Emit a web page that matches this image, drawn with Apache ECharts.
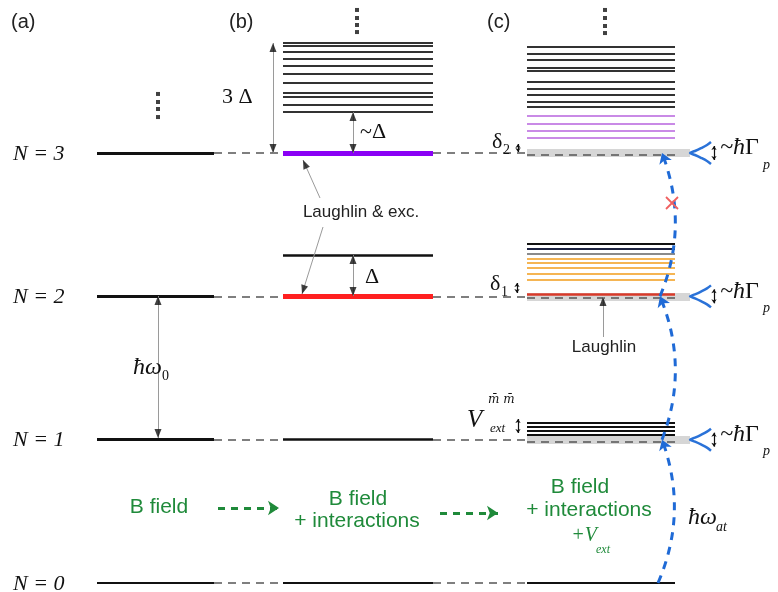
<!DOCTYPE html>
<html><head><meta charset="utf-8">
<script src="https://cdn.jsdelivr.net/npm/echarts@6/dist/echarts.min.js"></script>
<style>html,body{margin:0;padding:0;background:#fff}#c{width:778px;height:592px}</style>
</head><body><div id="c"></div>
<script>
// ---------------- data (energies in units of hbar*omega0) ----------------
const levelsN = [0, 1, 2, 3];
const levelLabels = ['N = 0', 'N = 1', 'N = 2', 'N = 3'];
const panelLabels = ['(a)', '(b)', '(c)'];
const colA = [97, 214], colB = [283, 433], colC = [527, 675];
const bStackN3 = [3.286, 3.335, 3.391, 3.419, 3.488, 3.551, 3.607, 3.656, 3.705, 3.747, 3.768];
const bExcN2 = [2.288];
const cBlackN3 = [3.321, 3.356, 3.405, 3.447, 3.495, 3.572, 3.593, 3.649, 3.691, 3.740];
const cPurpleN3 = [3.105, 3.154, 3.202, 3.258];
const cDarkN2 = [2.295, 2.330, 2.365];
const cOrangeN2 = [2.114, 2.156, 2.198, 2.233, 2.260];
const cLaughlinN2 = [2.016];
const cStackN1 = [1.033, 1.060, 1.088, 1.116];
const dotX = [158, 357, 605];
const dotsA = [3.251, 3.307, 3.356, 3.412];
const dotsB = [3.844, 3.893, 3.942, 3.998];
const dotsC = [3.837, 3.886, 3.942, 3.998];
const transitions = [[0, 1], [1, 2], [2, 3]];
const broadenedN = [1, 2, 3];

// ---------------- layout helpers ----------------
const Y0 = 583, U = 143.33;
const E = py => (Y0 - py) / U;           // screen y -> energy
const PY = e => Y0 - e * U;              // energy -> screen y

const seg = (x1, x2, e, style) => ({ coords: [[x1, e], [x2, e]], lineStyle: Object.assign({ opacity: 1 }, style) });
const levelData = [];
levelsN.forEach(n => {
  levelData.push(seg(colA[0], colA[1], n, { color: '#111', width: n === 0 ? 2 : 3 }));
  let bs = { color: '#111', width: n === 0 ? 2 : 2.5 };
  if (n === 2) bs = { color: '#ff2020', width: 5 };
  if (n === 3) bs = { color: '#8a00f5', width: 5 };
  levelData.push(seg(colB[0], colB[1], n, bs));
});
levelData.push(seg(colC[0], colC[1], 0, { color: '#111', width: 2 }));
bStackN3.forEach(e => levelData.push(seg(colB[0], colB[1], e, { color: '#333', width: 2 })));
bExcN2.forEach(e => levelData.push(seg(colB[0], colB[1], e, { color: '#111', width: 2.5 })));
cBlackN3.forEach(e => levelData.push(seg(colC[0], colC[1], e, { color: '#333', width: 2 })));
cPurpleN3.forEach(e => levelData.push(seg(colC[0], colC[1], e, { color: '#c98ae6', width: 2 })));
const darkCols = ['#8a8a8a', '#1d2340', '#111'];
cDarkN2.forEach((e, i) => levelData.push(seg(colC[0], colC[1], e, { color: darkCols[i], width: 2 })));
cOrangeN2.forEach(e => levelData.push(seg(colC[0], colC[1], e, { color: '#f5b553', width: 2.2 })));
cLaughlinN2.forEach(e => levelData.push(seg(colC[0], colC[1], e, { color: '#d83a2a', width: 2.5 })));
cStackN1.forEach(e => levelData.push(seg(colC[0], colC[1], e, { color: '#111', width: 2 })));

const bandData = broadenedN.map(n => seg(colC[0], 690, n, { color: '#d6d6d6', width: 8 }));
const dashData = [];
levelsN.forEach(n => {
  dashData.push(seg(colA[1], colB[0], n, {}));
  dashData.push(seg(colB[1], colC[0], n, {}));
  if (n > 0) dashData.push(seg(colC[0], colC[1], n - 0.012, {}));
});

// annotation arrows (screen px endpoints)
const arrows = [
  [273, 43, 273, 153, 2], [353, 112, 353, 153, 2], [353, 255, 353, 296, 2], [158, 296, 158, 438, 2],
  [320, 198, 303, 160, 1], [323, 227, 302, 294, 1], [603, 337, 603, 297, 1]
];
const shaftData = arrows.map(a => ({ coords: [[a[0], E(a[1])], [a[2], E(a[3])]] }));
const headData = [];
const head = (tx, ty, fx, fy) => {
  const dx = tx - fx, dy = ty - fy, L = Math.hypot(dx, dy);
  const ux = dx / L, uy = dy / L, h = 4.5;
  headData.push({ value: [tx - ux * h, E(ty - uy * h)], symbolRotate: Math.atan2(-dx, -dy) * 180 / Math.PI });
};
arrows.forEach(a => {
  head(a[2], a[3], a[0], a[1]);
  if (a[4] === 2) head(a[0], a[1], a[2], a[3]);
});

// tiny double arrows
const tiny = [[518, 144, 152], [517, 283, 293], [518, 419, 433]];
broadenedN.forEach(n => tiny.push([714, PY(n) - 7, PY(n) + 7]));
const tinyData = tiny.map(t => ({ coords: [[t[0], E(t[1])], [t[0], E(t[2])]] }));

const greenData = [
  { coords: [[218, E(508)], [279, E(508)]] },
  { coords: [[440, E(513)], [498, E(513)]] }
];
const arcX = [658, 662, 660, 662];
const blueData = transitions.map(t => ({ coords: [[arcX[t[0]], t[0]], [arcX[t[1]], t[1]]] }));

const lorentz = [[21, -11], [17, -8], [11, -4.8], [5, -2], [0, 0], [5, 2], [11, 4.8], [17, 8], [21, 11]];
const lorentzSeries = broadenedN.map(n => ({
  type: 'line', data: lorentz.map(p => [690 + p[0], n - p[1] / U]),
  showSymbol: false, smooth: 0.35, lineStyle: { color: '#2a72d8', width: 2.5 }, z: 6, silent: true
}));
const crossData = [
  { coords: [[666, E(197)], [678, E(209)]] },
  { coords: [[678, E(197)], [666, E(209)]] }
];

// ---------------- texts ----------------
const serif = "'Liberation Serif', 'DejaVu Serif', serif";
const sans = "'Liberation Sans', Arial, sans-serif";
const T = (text, x, y, font, fill, align, rich) => ({
  type: 'text', x, y, z: 100,
  style: { text, font, fill: fill || '#111', align: align || 'left', textAlign: align || 'left', verticalAlign: 'middle', textVerticalAlign: 'middle', rich }
});
const texts = [];
[11, 229, 487].forEach((x, i) => texts.push(T(panelLabels[i], x, 22, '20px ' + sans, '#222')));
levelsN.forEach(n => texts.push(T(levelLabels[n], 13, PY(n) + 1, 'italic 22px ' + serif)));
texts.push(T('3 Δ', 222, 97, '22px ' + serif));
texts.push(T('~Δ', 360, 132, '22px ' + serif));
texts.push(T('Δ', 365, 277, '22px ' + serif));
texts.push(T('Laughlin & exc.', 361, 212, '17px ' + sans, '#222', 'center'));
texts.push(T('δ', 492, 142, '22px ' + serif));
texts.push(T('2', 503, 150, '14px ' + serif));
texts.push(T('δ', 490, 284, '22px ' + serif));
texts.push(T('1', 501, 292, '14px ' + serif));
texts.push(T('V', 467, 420, 'italic 25px ' + serif));
texts.push(T('m̄ m̄', 488, 400, "italic 12px 'DejaVu Serif', serif"));
texts.push(T('ext', 490, 429, 'italic 13px ' + serif));
texts.push(T('Laughlin', 604, 347, '17px ' + sans, '#222', 'center'));
texts.push(T('ħω', 133, 368, 'italic 24px ' + serif));
texts.push(T('0', 162, 376, '14px ' + serif));
texts.push(T('ħω', 688, 518, 'italic 24px ' + serif));
texts.push(T('at', 716, 527, 'italic 14px ' + serif));
const gRich = {
  a: { font: 'italic 24px ' + serif, fill: '#111' },
  b: { font: '24px ' + serif, fill: '#111' }
};
broadenedN.forEach(n => {
  texts.push(T('{a|~ħ}{b|Γ}', 720, PY(n) - 5, '24px ' + serif, '#111', 'left', gRich));
  texts.push(T('p', 763, PY(n) + 12, 'italic 14px ' + serif));
});
const green = '#1f8a3a';
texts.push(T('B field', 159, 507, '21px ' + sans, green, 'center'));
texts.push(T('B field', 358, 499, '21px ' + sans, green, 'center'));
texts.push(T('+ interactions', 357, 521, '21px ' + sans, green, 'center'));
texts.push(T('B field', 580, 487, '21px ' + sans, green, 'center'));
texts.push(T('+ interactions', 589, 510, '21px ' + sans, green, 'center'));
texts.push(T('+V', 584, 536, 'italic 20px ' + serif, green, 'center'));
texts.push(T('ext', 596, 550, 'italic 12px ' + serif, green, 'left'));

// ---------------- chart ----------------
const L1 = { opacity: 1 };
const chart = echarts.init(document.getElementById('c'), null, { renderer: 'canvas' });
chart.setOption({
  animation: false,
  backgroundColor: '#fff',
  grid: { left: 0, right: 0, top: 0, bottom: 0 },
  xAxis: { type: 'value', min: 0, max: 778, show: false },
  yAxis: { type: 'value', min: E(592), max: E(0), show: false },
  series: [
    { type: 'lines', coordinateSystem: 'cartesian2d', data: bandData, z: 1, silent: true, lineStyle: L1 },
    { type: 'lines', coordinateSystem: 'cartesian2d', data: levelData, z: 2, silent: true, lineStyle: L1 },
    { type: 'lines', coordinateSystem: 'cartesian2d', data: dashData, z: 3, silent: true,
      lineStyle: { color: '#555', width: 1.5, type: [8, 6], opacity: 1 } },
    { type: 'scatter', data: [].concat(dotsA.map(e => [dotX[0], e]), dotsB.map(e => [dotX[1], e]), dotsC.map(e => [dotX[2], e])),
      symbol: 'rect', symbolSize: 4, itemStyle: { color: '#111' }, z: 3, silent: true },
    { type: 'lines', coordinateSystem: 'cartesian2d', data: shaftData, z: 4, silent: true,
      lineStyle: { color: '#9a9a9a', width: 1, opacity: 1 } },
    { type: 'scatter', data: headData, symbol: 'triangle', symbolSize: [7, 9],
      itemStyle: { color: '#111' }, z: 5, silent: true },
    { type: 'lines', coordinateSystem: 'cartesian2d', data: tinyData, z: 5, silent: true,
      symbol: ['arrow', 'arrow'], symbolSize: 4, lineStyle: { color: '#111', width: 1.2, opacity: 1 } },
    { type: 'lines', coordinateSystem: 'cartesian2d', data: greenData, z: 5, silent: true,
      symbol: ['none', 'arrow'], symbolSize: 11, lineStyle: { color: green, width: 3, type: [7, 6], opacity: 1 } },
    { type: 'lines', coordinateSystem: 'cartesian2d', data: blueData, z: 7, silent: true,
      symbol: ['none', 'arrow'], symbolSize: 10, lineStyle: { color: '#1f6ad6', width: 3, type: [8, 7], curveness: -0.2, opacity: 1 } },
    ...lorentzSeries,
    { type: 'lines', coordinateSystem: 'cartesian2d', data: crossData, z: 8, silent: true,
      lineStyle: { color: '#f06060', width: 1.8, opacity: 1 } }
  ],
  graphic: texts
});
</script></body></html>
